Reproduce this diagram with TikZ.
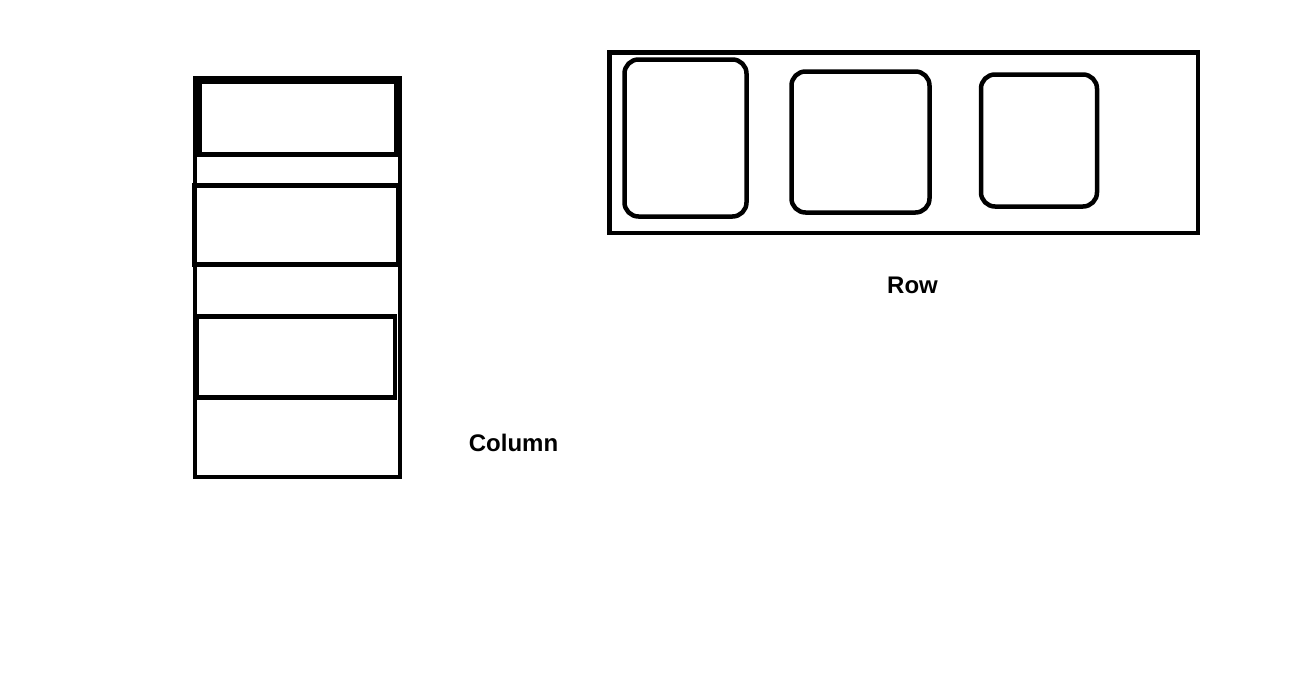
\documentclass[tikz,border=0pt]{standalone}
\usepackage{fontspec}
\setmainfont{Liberation Sans}

\begin{document}
\begin{tikzpicture}[x=1pt,y=-1pt,
  frame/.style={draw,line width=4.5pt,inner sep=0pt,outer sep=0pt},
  slot/.style={frame,rounded corners=14pt},
  caption/.style={font=\bfseries\fontsize{24}{28}\selectfont,anchor=base,inner sep=0pt}]

  \useasboundingbox[fill=white] (0,0) rectangle (1310,699);

  % Column
  \node[frame,minimum width=205pt,minimum height=399pt] (col) at (297.5,277.5) {};
  \node[frame,minimum width=196.5pt,minimum height=73pt] (colA) at (297.75,118) {};
  \node[frame,minimum width=204.5pt,minimum height=79pt] (colB) at (296.25,225) {};
  \node[frame,minimum width=198pt,minimum height=81pt] (colC) at (296,357) {};
  \node[caption] (colText) at (513.5,451) {Column};

  % Row
  \node[frame,minimum width=588.5pt,minimum height=180.5pt] (row) at (903.75,142.75) {};
  \node[slot,minimum width=122pt,minimum height=157pt] (rowA) at (685.5,138) {};
  \node[slot,minimum width=138pt,minimum height=141pt] (rowB) at (860.5,142) {};
  \node[slot,minimum width=116pt,minimum height=132pt] (rowC) at (1039,140.5) {};
  \node[caption] (rowText) at (912.5,293) {Row};
\end{tikzpicture}
\end{document}
